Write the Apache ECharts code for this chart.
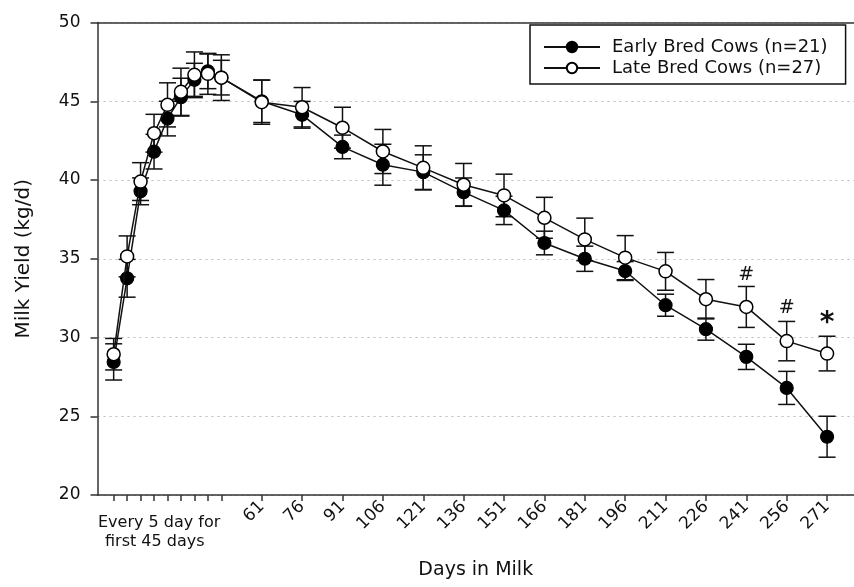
<!DOCTYPE html>
<html>
<head>
<meta charset="utf-8">
<script src="https://cdn.jsdelivr.net/npm/echarts@6.0.0/dist/echarts.min.js"></script>
<style>
html,body{margin:0;padding:0;background:#fff;}
#chart{width:854px;height:587px;}
</style>
</head>
<body>
<div id="chart"></div>
<script>
// ---- data ----
const days = [6, 11, 16, 21, 26, 31, 36, 41, 46,
  61, 76, 91, 106, 121, 136, 151, 166, 181, 196, 211, 226, 241, 256, 271];
const xTickLabels = [61, 76, 91, 106, 121, 136, 151, 166, 181, 196, 211, 226, 241, 256, 271];
const earlyBred = [28.45, 33.76, 39.28, 41.8, 43.9, 45.26, 46.36, 46.9, 46.5,
  45.0, 44.14, 42.1, 40.97, 40.5, 39.23, 38.07, 36.0, 35.0, 34.22, 32.05, 30.53, 28.77, 26.8, 23.7];
const earlyBredSE = [1.15, 1.2, 0.85, 1.1, 1.1, 1.2, 1.05, 1.1, 1.1,
  1.35, 0.85, 0.75, 1.3, 1.1, 0.9, 0.9, 0.75, 0.8, 0.6, 0.7, 0.7, 0.8, 1.05, 1.3];
const lateBred = [28.94, 35.15, 39.9, 42.97, 44.77, 45.6, 46.68, 46.74, 46.5,
  44.94, 44.62, 43.32, 41.81, 40.77, 39.7, 39.02, 37.6, 36.23, 35.07, 34.2, 32.43, 31.94, 29.77, 28.98];
const lateBredSE = [1.0, 1.3, 1.2, 1.2, 1.4, 1.5, 1.45, 1.3, 1.45,
  1.4, 1.25, 1.3, 1.4, 1.4, 1.35, 1.35, 1.3, 1.35, 1.4, 1.2, 1.25, 1.3, 1.25, 1.1];
const annoDays = [241, 256, 271];
const annoY = [33.95, 31.9, 30.9];
const annoText = ['#', '#', '*'];

const FONT = '"DejaVu Sans", "Liberation Sans", Arial, sans-serif';

function pairs(xs, ys) { return xs.map((x, i) => [x, ys[i]]); }
function errData(xs, ys, es) { return xs.map((x, i) => [x, ys[i] - es[i], ys[i] + es[i]]); }

function errRender(params, api) {
  const x = api.value(0);
  const lo = api.coord([x, api.value(1)]);
  const hi = api.coord([x, api.value(2)]);
  const hw = 8.5;
  const st = { stroke: '#111', lineWidth: 1.5, fill: null };
  return {
    type: 'group',
    children: [
      { type: 'line', shape: { x1: lo[0], y1: lo[1], x2: hi[0], y2: hi[1] }, style: st },
      { type: 'line', shape: { x1: lo[0] - hw, y1: lo[1], x2: lo[0] + hw, y2: lo[1] }, style: st },
      { type: 'line', shape: { x1: hi[0] - hw, y1: hi[1], x2: hi[0] + hw, y2: hi[1] }, style: st }
    ]
  };
}

const chart = echarts.init(document.getElementById('chart'), null, { renderer: 'canvas' });
const option = {
  backgroundColor: '#fff',
  animation: false,
  textStyle: { fontFamily: FONT },
  grid: { left: 97.5, top: 22.5, right: 0, bottom: 92, containLabel: false, outerBoundsMode: 'none' },
  legend: {
    orient: 'vertical',
    left: 530, top: 25,
    padding: [13, 18, 7, 13],
    itemGap: 3,
    itemWidth: 56, itemHeight: 13,
    borderColor: '#111', borderWidth: 1.5,
    backgroundColor: '#fff',
    textStyle: { fontFamily: FONT, fontSize: 18, color: '#111', padding: [0, 0, 0, 7] },
    data: ['Early Bred Cows (n=21)', 'Late Bred Cows (n=27)']
  },
  xAxis: [{
    type: 'value', min: 0, max: 281,
    name: 'Days in Milk', nameLocation: 'middle', nameGap: 66,
    nameTextStyle: { fontFamily: FONT, fontSize: 19, color: '#111' },
    axisLine: { show: true, lineStyle: { color: '#333', width: 1.5 } },
    axisTick: { show: true, length: 6, inside: false, customValues: days, lineStyle: { color: '#333', width: 1.5 } },
    axisLabel: { show: true, customValues: xTickLabels, rotate: 45, margin: 9,
      fontFamily: FONT, fontSize: 17, color: '#111' },
    splitLine: { show: false }
  }, {
    type: 'value', min: 0, max: 281, position: 'top',
    axisLine: { show: true, onZero: false, lineStyle: { color: '#333', width: 1.5 } },
    axisTick: { show: false }, axisLabel: { show: false }, splitLine: { show: false }
  }],
  yAxis: {
    type: 'value', min: 20, max: 50, interval: 5,
    name: 'Milk Yield (kg/d)', nameLocation: 'middle', nameGap: 64,
    nameTextStyle: { fontFamily: FONT, fontSize: 20, color: '#111' },
    axisLine: { show: true, lineStyle: { color: '#333', width: 1.5 } },
    axisTick: { show: true, length: 7, lineStyle: { color: '#333', width: 1.5 } },
    axisLabel: { fontFamily: FONT, fontSize: 17, color: '#111', margin: 17 },
    splitLine: { show: true, lineStyle: { color: '#bbb', type: [2, 4], width: 1 } }
  },
  series: [
    {
      type: 'custom', name: 'errEarly', renderItem: errRender, z: 1,
      encode: { x: 0, y: [1, 2] },
      data: errData(days, earlyBred, earlyBredSE), silent: true
    },
    {
      type: 'custom', name: 'errLate', renderItem: errRender, z: 1,
      encode: { x: 0, y: [1, 2] },
      data: errData(days, lateBred, lateBredSE), silent: true
    },
    {
      type: 'line', name: 'Early Bred Cows (n=21)', z: 3,
      data: pairs(days, earlyBred),
      symbol: 'circle', symbolSize: 13, showAllSymbol: true,
      lineStyle: { color: '#111', width: 1.5 },
      itemStyle: { color: '#000', borderColor: '#000', borderWidth: 1.2 }
    },
    {
      type: 'line', name: 'Late Bred Cows (n=27)', z: 4,
      data: pairs(days, lateBred),
      symbol: 'circle', symbolSize: 13, showAllSymbol: true,
      lineStyle: { color: '#111', width: 1.5 },
      itemStyle: { color: '#fff', borderColor: '#000', borderWidth: 1.5 }
    },
    {
      type: 'custom', name: 'anno', z: 5, silent: true,
      encode: { x: 0, y: 1 },
      data: annoDays.map((d, i) => [d, annoY[i], i]),
      renderItem: function (params, api) {
        const p = api.coord([api.value(0), api.value(1)]);
        const t = annoText[api.value(2)];
        const isStar = t === '*';
        return {
          type: 'text', x: p[0], y: p[1],
          style: {
            text: t, fill: '#111', align: 'center', verticalAlign: 'middle',
            font: (isStar ? 'bold 28px ' : '19px ') + FONT
          }
        };
      }
    }
  ],
  graphic: [
    { type: 'text', left: 98, top: 515, style: { text: 'Every 5 day for', font: '16px ' + FONT, fill: '#111' } },
    { type: 'text', left: 105, top: 534, style: { text: 'first 45 days', font: '16px ' + FONT, fill: '#111' } }
  ]
};
chart.setOption(option);
</script>
</body>
</html>
